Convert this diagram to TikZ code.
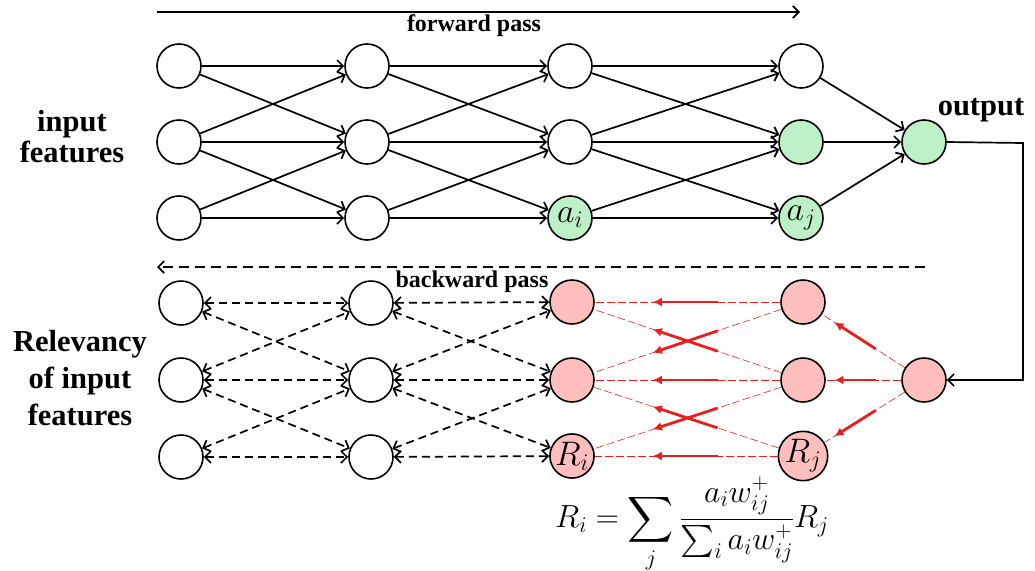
\documentclass[tikz,border=0pt]{standalone}
\usepackage{fix-cm}
\usepackage[no-math]{fontspec}
\newfontfamily\tnr{Liberation Serif}
\usetikzlibrary{arrows.meta,calc}
% large operators scale with the surrounding font size
\DeclareFontShape{OMX}{cmex}{m}{n}{<->cmex10}{}
\definecolor{actgreen}{RGB}{190,240,200}
\definecolor{relpink}{RGB}{255,190,190}
\definecolor{relred}{RGB}{235,30,30}
\tikzset{
  neuron/.style={circle,draw,line width=1.6pt,minimum size=44pt,inner sep=0pt,
    font=\fontsize{34}{34}\selectfont},
  active/.style={neuron,fill=actgreen},
  relevant/.style={neuron,fill=relpink},
  tip/.style={-{Straight Barb[length=6pt,width=12pt]}},
  fwd/.style={line width=1.7pt,tip},
  bwd/.style={line width=1.7pt,dash pattern=on 8pt off 5pt,
    {Straight Barb[length=6pt,width=12pt]}-{Straight Barb[length=6pt,width=12pt]}},
  relthin/.style={relred,line width=0.6pt,dash pattern=on 8pt off 3pt},
  relthick/.style={relred,line width=2.8pt,-{Latex[length=9pt,width=9pt]}},
  biglab/.style={font=\tnr\bfseries\fontsize{30.5}{31}\selectfont,align=center,inner sep=0pt},
  passlab/.style={font=\tnr\bfseries\fontsize{24}{26}\selectfont,inner sep=0pt},
}
\begin{document}
\begin{tikzpicture}[x=1pt,y=-1pt]
\useasboundingbox (0,0) rectangle (1035,570);

% forward network
\foreach \r/\y in {1/66,2/142,3/218}{
  \node[neuron] (fA\r) at (179,\y) {};
  \node[neuron] (fB\r) at (367,\y) {};
}
\node[neuron] (fC1) at (570,66) {};
\node[neuron] (fC2) at (570,142) {};
\node[active] (fC3) at (570,218) {$a_i$};
\node[neuron] (fD1) at (801,66) {};
\node[active] (fD2) at (801,142) {};
\node[active] (fD3) at (801,218) {$a_j$};
\node[active] (out) at (924,142) {};

\foreach \i/\j in {1/1,1/2,2/1,2/2,2/3,3/2,3/3}{
  \draw[fwd] (fA\i) -- (fB\j);
  \draw[fwd] (fB\i) -- (fC\j);
  \draw[fwd] (fC\i) -- (fD\j);
}
\foreach \i in {1,2,3}{\draw[fwd] (fD\i) -- (out);}

% backward network
\foreach \r/\y in {1/303,2/380,3/457}{
  \node[neuron] (bA\r) at (181,\y) {};
  \node[neuron] (bB\r) at (371,\y) {};
}
\node[relevant] (bC1) at (572,302) {};
\node[relevant] (bC2) at (572,380) {};
\node[relevant] (bC3) at (572,456) {$R_i$};
\node[relevant] (bD1) at (803,302) {};
\node[relevant] (bD2) at (803,380) {};
\node[relevant] (bD3) at (803,456) {$R_j$};
\node[relevant] (bout) at (924,380) {};

\foreach \i/\j in {1/1,1/2,2/1,2/2,2/3,3/2,3/3}{
  \draw[bwd] (bA\i) -- (bB\j);
  \draw[bwd] (bB\i) -- (bC\j);
  \draw[relthin] (bD\j) -- (bC\i);
  \draw[relthick] ($(bD\j)!0.37!(bC\i)$) -- ($(bD\j)!0.65!(bC\i)$);
}
\foreach \j in {1,2,3}{
  \draw[relthin] (bout) -- (bD\j);
  \draw[relthick] ($(bout)!0.40!(bD\j)$) -- ($(bout)!0.74!(bD\j)$);
}

% output fed back into the relevance pass
\coordinate (turn) at (1023,143);
\draw[fwd] (out.east) -- (turn) |- (bout.east);

% pass arrows
\coordinate (fpA) at (157,12);
\coordinate (fpB) at (800,12);
\draw[fwd] (fpA) -- (fpB);
\coordinate (bpA) at (925,267);
\coordinate (bpB) at (157,267);
\draw[line width=1.7pt,dash pattern=on 10pt off 6pt,tip] (bpA) -- (bpB);
\node[passlab] (fplab) at (474,26) {forward pass};
\node[passlab] (bplab) at (472,282) {backward pass};

% labels
\node[biglab] (inlab) at (72,137) {input\\features};
\node[biglab] (outlab) at (981,110) {output};
\node[biglab,font=\tnr\bfseries\fontsize{30.5}{37}\selectfont] (rellab) at (80,378) {Relevancy\\of input\\features};

% propagation rule
\node[font=\fontsize{32}{36}\selectfont,inner sep=0pt] (eq) at (692,525)
  {$\displaystyle R_i=\sum_j\frac{a_iw_{ij}^+}{\sum_i a_iw_{ij}^+}R_j$};
\end{tikzpicture}
\end{document}
